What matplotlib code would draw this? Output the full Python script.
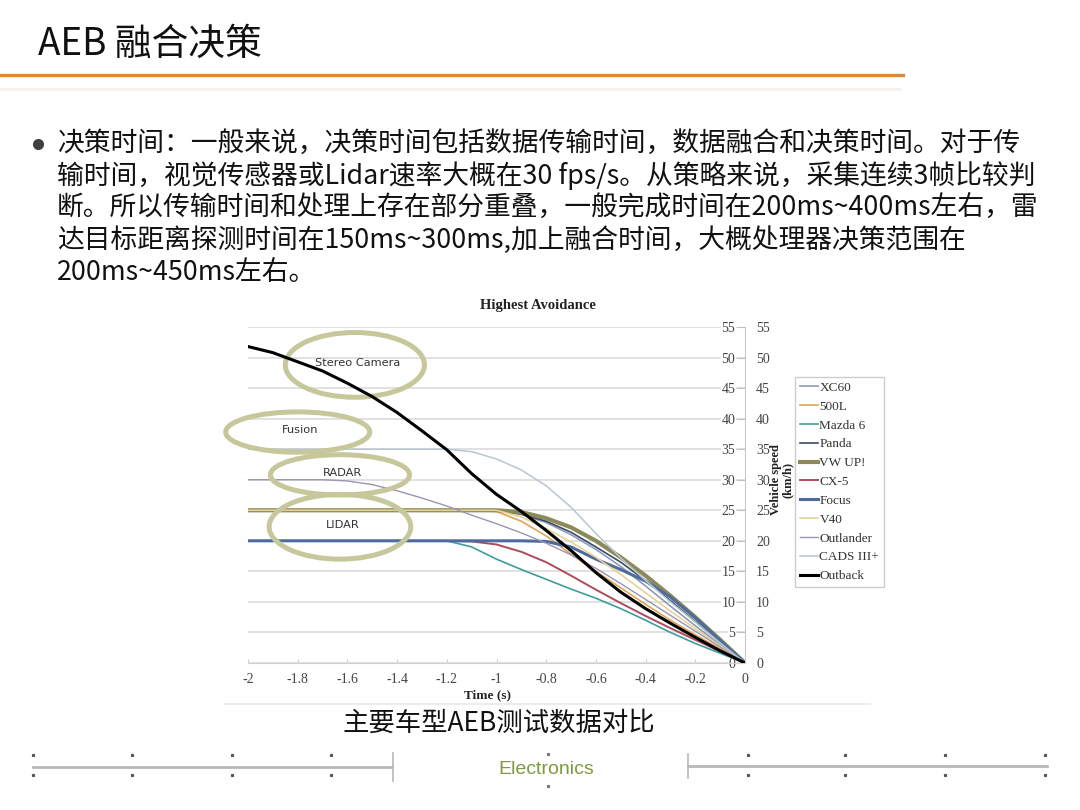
import matplotlib
matplotlib.use('Agg')
import matplotlib.pyplot as plt
from matplotlib.patches import Ellipse
from matplotlib.lines import Line2D

plt.rcParams['font.family'] = ['Noto Sans CJK SC', 'DejaVu Sans']

# time axis (s) and vehicle speed (km/h)
t = [-2.0, -1.9, -1.8, -1.7, -1.6, -1.5, -1.4, -1.3, -1.2, -1.1, -1.0,
     -0.9, -0.8, -0.7, -0.6, -0.5, -0.4, -0.3, -0.2, -0.1, 0.0]

xc60 = [25, 25, 25, 25, 25, 25, 25, 25, 25, 25, 25,
        24.3, 23.0, 21.0, 18.6, 15.8, 12.6, 9.3, 6.1, 3.0, 0]
l500 = [25, 25, 25, 25, 25, 25, 25, 25, 25, 25, 24.8,
        23.2, 20.8, 17.8, 15.0, 12.3, 9.6, 7.0, 4.6, 2.3, 0]
mazda6 = [20, 20, 20, 20, 20, 20, 20, 20, 20, 19.0, 17.0,
          15.3, 13.7, 12.1, 10.6, 8.9, 7.0, 5.0, 3.2, 1.6, 0]
panda = [25, 25, 25, 25, 25, 25, 25, 25, 25, 25, 25,
         24.4, 23.2, 21.4, 19.0, 16.5, 13.5, 10.2, 6.8, 3.4, 0]
vwup = [25, 25, 25, 25, 25, 25, 25, 25, 25, 25, 25,
        24.7, 23.7, 22.2, 20.0, 17.3, 14.3, 11.0, 7.5, 3.8, 0]
cx5 = [20, 20, 20, 20, 20, 20, 20, 20, 20, 19.9, 19.4,
       18.2, 16.5, 14.3, 12.0, 9.8, 7.7, 5.7, 3.8, 1.9, 0]
focus = [20, 20, 20, 20, 20, 20, 20, 20, 20, 20, 20,
         20, 19.9, 19.0, 17.0, 15.3, 13.4, 10.8, 7.4, 3.7, 0]
v40 = [25, 25, 25, 25, 25, 25, 25, 25, 25, 25, 25,
       23.9, 22.0, 19.8, 17.3, 14.5, 11.5, 8.5, 5.6, 2.8, 0]
outlander = [30, 30, 30, 30, 29.8, 29.2, 28.2, 27.0, 25.7, 24.2, 22.8,
             21.3, 19.6, 17.7, 15.5, 13.0, 10.4, 7.8, 5.2, 2.6, 0]
cads = [35, 35, 35, 35, 35, 35, 35, 35, 35, 34.6, 33.4,
        31.6, 29.0, 25.5, 21.2, 17.2, 13.5, 10.0, 6.7, 3.3, 0]
outback = [51.8, 50.8, 49.3, 47.8, 45.8, 43.6, 41.0, 38.0, 34.9, 31.0, 27.6,
           24.8, 21.7, 18.4, 14.8, 11.6, 8.9, 6.5, 4.2, 2.0, 0]

names = ['XC60', '500L', 'Mazda 6', 'Panda', 'VW UP!', 'CX-5', 'Focus',
         'V40', 'Outlander', 'CADS III+', 'Outback']
series = [xc60, l500, mazda6, panda, vwup, cx5, focus, v40, outlander, cads, outback]
colors = ['#8d9cb6', '#dfa456', '#3f9c9c', '#3e4a68', '#8c8a5a', '#b04a58',
          '#4d6b9c', '#e8d294', '#9c94b2', '#b9c6d0', '#000000']
widths = [1.2, 1.2, 1.2, 1.2, 3.0, 1.4, 2.2, 1.2, 1.0, 1.1, 2.2]

sensors = ['Stereo Camera', 'Fusion', 'RADAR', 'LIDAR']

yticks = [0, 5, 10, 15, 20, 25, 30, 35, 40, 45, 50, 55]
xticks = [-2, -1.8, -1.6, -1.4, -1.2, -1, -0.8, -0.6, -0.4, -0.2, 0]
xlabels = ['-2', '-1.8', '-1.6', '-1.4', '-1.2', '-1', '-0.8', '-0.6', '-0.4', '-0.2', '0']

fig = plt.figure(figsize=(10.8, 8.1), dpi=100)
W, H = 1080.0, 810.0

# ---- slide header ----
fig.text(38 / W, 1 - 44 / H, 'AEB 融合决策', fontsize=26.5, va='center', ha='left', color='#111111')
fig.add_artist(Line2D([0, 903 / W], [1 - 75 / H, 1 - 75 / H], color='#db8b33', lw=2.4))
fig.add_artist(Line2D([0, 900 / W], [1 - 89 / H, 1 - 89 / H], color='#f6f2ee', lw=2))

# ---- bullet text ----
fig.add_artist(Line2D([38 / W], [1 - 144 / H], marker='o', markersize=7, color='#404040'))
body = ['决策时间：一般来说，决策时间包括数据传输时间，数据融合和决策时间。对于传',
        '输时间，视觉传感器或Lidar速率大概在30 fps/s。从策略来说，采集连续3帧比较判',
        '断。所以传输时间和处理上存在部分重叠，一般完成时间在200ms~400ms左右，雷',
        '达目标距离探测时间在150ms~300ms,加上融合时间，大概处理器决策范围在',
        '200ms~450ms左右。']
for i, line in enumerate(body):
    fig.text(57 / W, 1 - (143 + i * 32.5) / H, line, fontsize=19.3, va='center', ha='left',
             color='#111111')

# ---- chart ----
ax = fig.add_axes([248 / W, 1 - 663 / H, 497 / W, 336 / H])
# inner y axis sits on the right edge, labels to its left
ax.spines['left'].set_position(('axes', 1.0))
ax.spines['left'].set_color('#c8c8c8')
for sp in ['top', 'right']:
    ax.spines[sp].set_visible(False)
ax.spines['bottom'].set_color('#d0d0d0')

for s, n, c, w in zip(series, names, colors, widths):
    z = 4 if n == 'Outback' else 2
    ax.plot(t, s, color=c, lw=w, label=n, zorder=z)

ax.set_xlim(-2, 0)
ax.set_ylim(0, 55)
ax.set_xticks(xticks)
ax.set_xticklabels(xlabels, family='Liberation Serif', fontsize=10, color='#444444')
ax.set_yticks(yticks)
ax.set_yticklabels([str(v) for v in yticks], family='Liberation Serif', fontsize=10,
                   color='#444444',
                   bbox=dict(facecolor='white', edgecolor='none', pad=0.5))
ax.tick_params(axis='y', direction='out', length=6, color='#c0c0c0', pad=1)
ax.tick_params(axis='x', direction='in', length=3, color='#cccccc', pad=7)
ax.grid(axis='y', color='#dedede', lw=1.3, zorder=0)
ax.set_axisbelow(True)

ax2 = ax.twinx()
ax2.set_ylim(0, 55)
ax2.set_yticks(yticks)
ax2.set_yticklabels([str(v) for v in yticks], family='Liberation Serif', fontsize=10, color='#444444')
ax2.tick_params(axis='y', length=0, pad=8)
for sp in ax2.spines.values():
    sp.set_visible(False)

# sensor ellipses (data coords: center x, center y, width, height)
ell = [(-1.57, 48.8, 0.56, 10.6), (-1.80, 37.8, 0.58, 6.6),
       (-1.63, 30.8, 0.56, 6.6), (-1.63, 22.3, 0.57, 10.6)]
for (cx, cy, ew, eh), lab in zip(ell, sensors):
    ax.add_patch(Ellipse((cx, cy), ew, eh, fill=False, edgecolor='#c6c89c', lw=3.6,
                         zorder=3, clip_on=False))
    ax.text(cx + 0.01, cy + 0.3, lab, ha='center', va='center', fontsize=8.2,
            family='DejaVu Sans', color='#333333', zorder=5)

fig.text(538 / W, 1 - 306 / H, 'Highest Avoidance', family='Liberation Serif',
         fontweight='bold', fontsize=10.5, ha='center', va='center', color='#222222')
fig.text(487 / W, 1 - 695 / H, 'Time (s)', family='Liberation Serif',
         fontweight='bold', fontsize=9.5, ha='center', va='center', color='#222222')
fig.text(782 / W, 1 - 480 / H, 'Vehicle speed\n(km/h)', family='Liberation Serif',
         fontweight='bold', fontsize=9, ha='center', va='center', rotation=90,
         color='#222222', linespacing=1.0)

leg = ax.legend(loc='upper left', bbox_to_anchor=(795 / W, 1 - 377 / H),
                bbox_transform=fig.transFigure, frameon=True, fancybox=False,
                edgecolor='#c0c0c0', prop={'family': 'Liberation Serif', 'size': 9.5},
                handlelength=1.4, handletextpad=0.1, labelspacing=0.5,
                borderpad=0.35, borderaxespad=0)
leg.get_frame().set_linewidth(1.0)
for txt in leg.get_texts():
    txt.set_color('#333333')

fig.add_artist(Line2D([225 / W, 870 / W], [1 - 704 / H, 1 - 704 / H], color='#ececec', lw=1.5))

# ---- caption + footer ----
fig.text(499 / W, 1 - 723 / H, '主要车型AEB测试数据对比', fontsize=19, ha='center', va='center',
         color='#111111')

fig.add_artist(Line2D([33 / W, 392 / W], [1 - 767 / H, 1 - 767 / H], color='#b8b8b8', lw=2))
fig.add_artist(Line2D([393 / W, 393 / W], [1 - 753 / H, 1 - 781 / H], color='#b8b8b8', lw=1.2))
fig.add_artist(Line2D([688 / W, 1047 / W], [1 - 766 / H, 1 - 766 / H], color='#b8b8b8', lw=2))
fig.add_artist(Line2D([688 / W, 688 / W], [1 - 754 / H, 1 - 778 / H], color='#b8b8b8', lw=1.2))
dot_x = [33, 132, 232, 331, 748, 845, 945, 1045]
for dx in dot_x:
    fig.add_artist(Line2D([dx / W, dx / W], [1 - 755 / H, 1 - 775 / H], ls='none', marker='s',
                          markersize=1.3, color='#555555'))
fig.add_artist(Line2D([548 / W, 548 / W], [1 - 754 / H, 1 - 786 / H], ls='none', marker='s',
                      markersize=1.3, color='#777777'))
fig.text(546 / W, 1 - 769 / H, 'Electronics', family='Liberation Sans', fontsize=14,
         ha='center', va='center', color='#7d9a3e')

fig.savefig('out.png', dpi=100)
